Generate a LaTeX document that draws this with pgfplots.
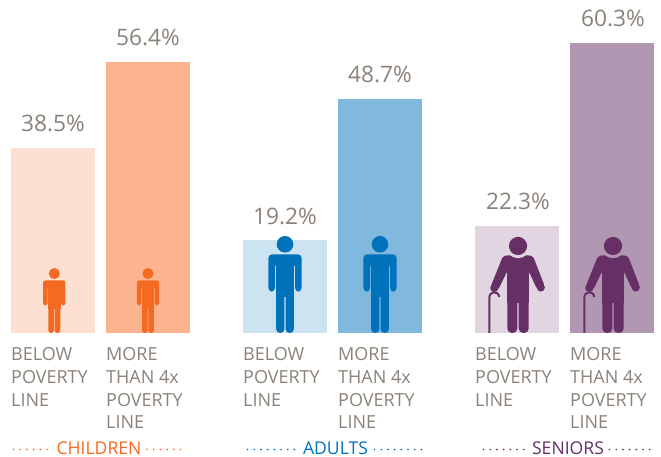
\documentclass[border=0pt]{standalone}
\usepackage{pgfplots}
\pgfplotsset{compat=1.18}
\usepackage{fontspec}
\setmainfont{Open Sans}
\definecolor{txt}{HTML}{8A8279}
\definecolor{org}{HTML}{F46A21}
\definecolor{orgL}{HTML}{FDE0D2}
\definecolor{orgM}{HTML}{FBB48F}
\definecolor{blu}{HTML}{0072BC}
\definecolor{bluL}{HTML}{CCE3F2}
\definecolor{bluM}{HTML}{80B8DE}
\definecolor{pur}{HTML}{662F66}
\definecolor{purL}{HTML}{E0D5E0}
\definecolor{purM}{HTML}{B297B2}
% person: #1 x centre, #2 scale, #3 colour, #4 corner radius
\newcommand{\person}[4]{%
\begin{scope}[shift={(#1,333)},scale=#2]
\fill[#3] (0,-88.7) circle (8.3);
\fill[#3,rounded corners=#4pt] (-16.7,-41.3) -- (-16.7,-78.7) -- (16.7,-78.7) -- (16.7,-41.3) -- (10,-41.3) -- (10,-70) -- (-10,-70) -- (-10,-41.3) -- cycle;
\fill[#3] (-9.4,-74) rectangle (9.4,-36);
\fill[#3,rounded corners=#4pt] (-8.9,-40) -- (-8.9,0) -- (-0.6,0) -- (-0.6,-40) -- cycle;
\fill[#3,rounded corners=#4pt] (8.9,-40) -- (8.9,0) -- (0.6,0) -- (0.6,-40) -- cycle;
\end{scope}}
% senior: #1 x centre, #2 bar colour
\newcommand{\senior}[2]{%
\begin{scope}[shift={(#1,333)}]
\fill[pur] (-23.7,-45) circle (4.1);
\fill[pur] (22.8,-45.5) circle (4.1);
\fill[pur,rounded corners=2pt] (-9,-77.7) -- (-15,-77) -- (-27.5,-46) -- (-19.9,-43) -- (-10.7,-62) -- (10.7,-62) -- (19,-44) -- (26.6,-47) -- (15,-77) -- (9,-77.7) -- cycle;
\fill[pur] (-10.7,-70) rectangle (10.7,-30);
\fill[pur,rounded corners=4.5pt] (-10.7,-36) -- (-10.7,0) -- (-0.7,0) -- (-0.7,-36) -- cycle;
\fill[pur,rounded corners=4.5pt] (10.7,-36) -- (10.7,0) -- (0.7,0) -- (0.7,-36) -- cycle;
\fill[#2] (0,-87) circle (12.2);
\fill[pur] (0,-87) circle (9.1);
\draw[pur,line width=2pt] (-28.7,0) -- (-28.7,-35) .. controls (-28.7,-42) and (-20,-43) .. (-18.7,-36);
\end{scope}}
% labels
\newcommand{\below}[1]{%
\node[lab] at (#1,361) {BELOW};
\node[lab] at (#1,383.6) {POVERTY};
\node[lab] at (#1,406.2) {LINE};}
\newcommand{\more}[1]{%
\node[lab] at (#1,361) {MORE};
\node[lab] at (#1,383.6) {THAN 4x};
\node[lab] at (#1,406.2) {POVERTY};
\node[lab] at (#1,428.8) {LINE};}
\newcommand{\group}[7]{% name colour centre l1 l2 r1 r2
\node[text=#2,font=\fontsize{17.6}{20}\selectfont,anchor=base,inner sep=0pt] at (#3,455) {#1};
\draw[#2,line width=1.9pt,line cap=round,dash pattern=on 0pt off 6.7pt] (#4,449.5) -- (#5,449.5);
\draw[#2,line width=1.9pt,line cap=round,dash pattern=on 0pt off 6.7pt] (#6,449.5) -- (#7,449.5);}
\begin{document}
\begin{tikzpicture}[x=1pt,y=1pt]
\path[use as bounding box] (0,0) rectangle (661,457);
\begin{axis}[
  at={(0,0)},anchor=south west,
  width=661pt,height=457pt,scale only axis,
  xmin=0,xmax=661,ymin=-25.82,ymax=69.19,
  hide axis,clip=false,
  ybar,bar width=84,bar shift=0pt,
  nodes near coords={\pgfmathprintnumber[fixed,fixed zerofill,precision=1,/pgf/number format/assume math mode=true]{\pgfplotspointmeta}\%},
  every node near coord/.append style={font=\fontsize{22.7}{26}\selectfont,text=txt,anchor=base,inner sep=0pt,yshift=16pt},
]
\addplot[fill=orgL,draw=none] coordinates {(53,38.5)};
\addplot[fill=orgM,draw=none] coordinates {(148,56.4)};
\addplot[fill=bluL,draw=none] coordinates {(285,19.2)};
\addplot[fill=bluM,draw=none] coordinates {(380,48.7)};
\addplot[fill=purL,draw=none,every node near coord/.append style={xshift=1pt}] coordinates {(517,22.3)};
\addplot[fill=purM,draw=none,every node near coord/.append style={xshift=1pt}] coordinates {(612,60.3)};
\end{axis}
\begin{scope}[yshift=457pt,y=-1pt,x=1pt,
  lab/.style={anchor=base west,inner sep=0pt,text=txt,font=\fontsize{18}{20}\selectfont}]
\person{54.3}{0.67}{org}{2.5}
\person{148}{0.67}{org}{2.5}
\person{285}{1}{blu}{4}
\person{380}{1}{blu}{4}
\senior{518}{purL}
\senior{613}{purM}
\below{11}\more{106}
\below{243}\more{338}
\below{475}\more{570}
\group{CHILDREN}{org}{99}{13.5}{50}{147}{184}
\group{ADULTS}{blu}{335.5}{247.5}{298}{374.5}{425}
\group{SENIORS}{pur}{568}{483.5}{526}{609.5}{654}
\end{scope}
\end{tikzpicture}
\end{document}
